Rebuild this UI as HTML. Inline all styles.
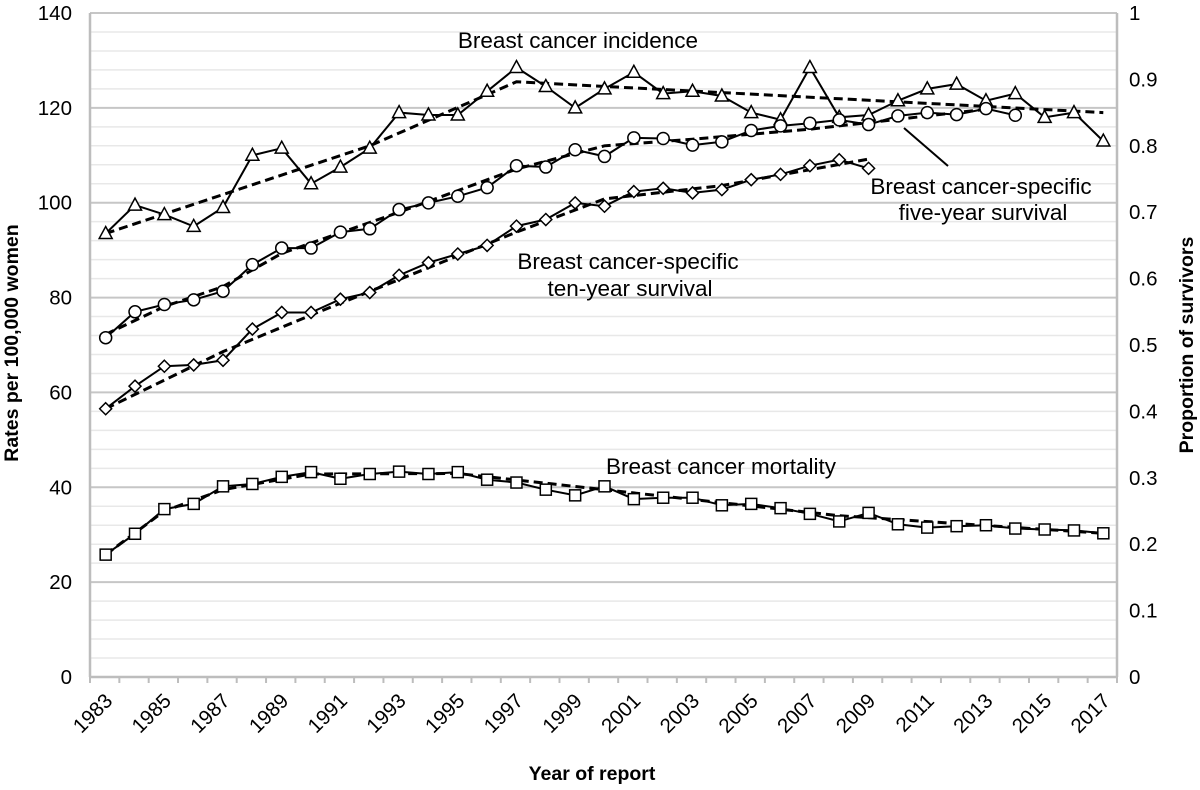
<!DOCTYPE html>
<html><head><meta charset="utf-8"><style>
html,body{margin:0;padding:0;background:#fff;}
svg{display:block;font-family:"Liberation Sans",Arial,sans-serif;}
</style></head><body>
<svg id="chart" width="1200" height="790" viewBox="0 0 1200 790" xmlns="http://www.w3.org/2000/svg">
<g id="grid"></g>
<g id="axes"></g>
<g id="series"></g>
<g id="labels">
<text x="578" y="48" font-size="22.5" text-anchor="middle">Breast cancer incidence</text>
<line x1="904" y1="128" x2="948" y2="166" stroke="#000" stroke-width="2"/>
<text x="981" y="194" font-size="22.5" text-anchor="middle">Breast cancer-specific</text>
<text x="983" y="220" font-size="22.5" text-anchor="middle">five-year survival</text>
<text x="628" y="269" font-size="22.5" text-anchor="middle">Breast cancer-specific</text>
<text x="630" y="296" font-size="22.5" text-anchor="middle">ten-year survival</text>
<text x="721" y="474" font-size="22.5" text-anchor="middle">Breast cancer mortality</text>
<text x="592" y="780" font-size="19.5" font-weight="bold" text-anchor="middle">Year of report</text>
<text transform="translate(18,343) rotate(-90)" font-size="19.5" font-weight="bold" text-anchor="middle">Rates per 100,000 women</text>
<text transform="translate(1193,345) rotate(-90)" font-size="19.5" font-weight="bold" text-anchor="middle">Proportion of survivors</text>
</g>
</svg>
<script>
const years = [1983,1984,1985,1986,1987,1988,1989,1990,1991,1992,1993,1994,1995,1996,1997,1998,1999,2000,2001,2002,2003,2004,2005,2006,2007,2008,2009,2010,2011,2012,2013,2014,2015,2016,2017];
const incidence = [93.5,99.5,97.5,95,99,110,111.5,104,107.5,111.5,119,118.5,118.5,123.5,128.5,124.5,120,124,127.5,123,123.5,122.5,119,117.5,128.5,118,118.5,121.5,124,125,121.5,123,118,119,113];
const incTrendYears = [1983,1992,1997,2017];
const incTrend = [93.5,112,125.5,119];
const fiveYear = [.511,.550,.561,.568,.581,.621,.646,.646,.670,.675,.704,.714,.724,.737,.770,.768,.794,.784,.812,.811,.801,.806,.823,.830,.834,.839,.832,.845,.850,.847,.856,.846];
const fiveTrendYears = [1983,1985,1987,1989,1993,1997,2000,2003,2007,2013];
const fiveTrend = [.516,.558,.588,.638,.700,.765,.800,.810,.825,.855];
const tenYear = [.404,.438,.468,.470,.477,.524,.549,.549,.569,.579,.605,.624,.637,.650,.679,.689,.714,.709,.731,.736,.729,.734,.749,.757,.770,.779,.766];
const tenTrendYears = [1983,1987,1990,1997,2000,2004,2009];
const tenTrend = [.404,.490,.545,.670,.720,.740,.780];
const mortality = [25.8,30.2,35.4,36.5,40.2,40.7,42.2,43.2,41.8,42.8,43.3,42.8,43.2,41.6,41,39.5,38.3,40.2,37.5,37.8,37.8,36.2,36.5,35.6,34.4,32.8,34.6,32.2,31.5,31.8,32,31.3,31.1,30.9,30.3];
const mortTrendYears = [1983,1985,1987,1990,1995,2000,2008,2017];
const mortTrend = [25.8,35,39.5,42.8,42.9,39.5,34,30.3];
const leftTicks = [0,20,40,60,80,100,120,140];
const rightTicks = ["0","0.1","0.2","0.3","0.4","0.5","0.6","0.7","0.8","0.9","1"];

const NS="http://www.w3.org/2000/svg";
const X0=90,X1=1117,Y0=677,Y1=13,LMAX=140;
const bw=(X1-X0)/years.length;
function x(yr){return X0+bw*(yr-years[0]+0.5)+1;}
function yL(v){return Y0-(v/LMAX)*(Y0-Y1);}
function yR(p){return Y0-p*(Y0-Y1);}
function mk(tag,attrs,parent){const e=document.createElementNS(NS,tag);for(const k in attrs)e.setAttribute(k,attrs[k]);parent.appendChild(e);return e;}
const grid=document.getElementById('grid'),axes=document.getElementById('axes'),series=document.getElementById('series');
for(let v=0;v<=LMAX;v+=4){
  const major=v%20===0;
  const l=mk('line',{x1:X0,x2:X1,y1:yL(v),y2:yL(v),stroke:major?'#c6c6c6':'#e8e8e8','stroke-width':major?2:1.5},grid);
  
  
}
leftTicks.forEach(v=>{const t=mk('text',{x:72,y:yL(v)+7,'font-size':20.5,'text-anchor':'end'},axes);t.textContent=v;
  });
rightTicks.forEach(s=>{const t=mk('text',{x:1129,y:yR(parseFloat(s))+7,'font-size':20.5},axes);t.textContent=s;
  });
[X0,X1].forEach(a=>{const l=mk('line',{x1:a,x2:a,y1:Y1,y2:Y0,stroke:'#bdbdbd','stroke-width':2.5},axes);
  });
const bl=mk('line',{x1:X0,x2:X1,y1:Y0,y2:Y0,stroke:'#bdbdbd','stroke-width':2.5},axes);

for(let i=0;i<=years.length;i++){const xx=X0+bw*i;const l=mk('line',{x1:xx,x2:xx,y1:Y0,y2:Y0+6,stroke:'#bdbdbd','stroke-width':2},axes);
  }
years.forEach((yr,i)=>{if(i%2)return;const xx=x(yr)+8;const t=mk('text',{'font-size':20.5,'text-anchor':'end',transform:`translate(${xx},${Y0+25}) rotate(-45)`},axes);
  t.textContent=yr;});

function line(xs,ys,dash,name){
  const d=xs.map((v,i)=>(i?'L':'M')+x(v).toFixed(1)+','+ys[i].toFixed(1)).join('');
  const p=mk('path',{d:d,fill:'none',stroke:'#000','stroke-width':dash?3:2,'stroke-dasharray':dash?'9 5':'none'},series);
  
}
function marker(type,cx,cy,name){
  let e;
  if(type==='tri')e=mk('path',{d:`M${cx},${cy-7}L${cx+6.5},${cy+5}L${cx-6.5},${cy+5}Z`},series);
  else if(type==='circ')e=mk('circle',{cx:cx,cy:cy,r:6},series);
  else if(type==='dia')e=mk('path',{d:`M${cx},${cy-6}L${cx+6},${cy}L${cx},${cy+6}L${cx-6},${cy}Z`},series);
  else e=mk('rect',{x:cx-5.5,y:cy-5.5,width:11,height:11},series);
  e.setAttribute('fill','#fff');e.setAttribute('stroke','#000');e.setAttribute('stroke-width','1.5');
  
}
function draw(vals,scale,type,trYears,trVals,name){
  const ys=years.slice(0,vals.length);
  line(ys,vals.map(scale),false,name+'-line');
  line(trYears,trVals.map(scale),true,name+'-trend');
  ys.forEach((yr,i)=>marker(type,x(yr),scale(vals[i]),name+'-point'));
}
draw(incidence,yL,'tri',incTrendYears,incTrend,'incidence');
draw(fiveYear,yR,'circ',fiveTrendYears,fiveTrend,'five-year-survival');
draw(tenYear,yR,'dia',tenTrendYears,tenTrend,'ten-year-survival');
draw(mortality,yL,'sq',mortTrendYears,mortTrend,'mortality');
</script>
</body></html>
